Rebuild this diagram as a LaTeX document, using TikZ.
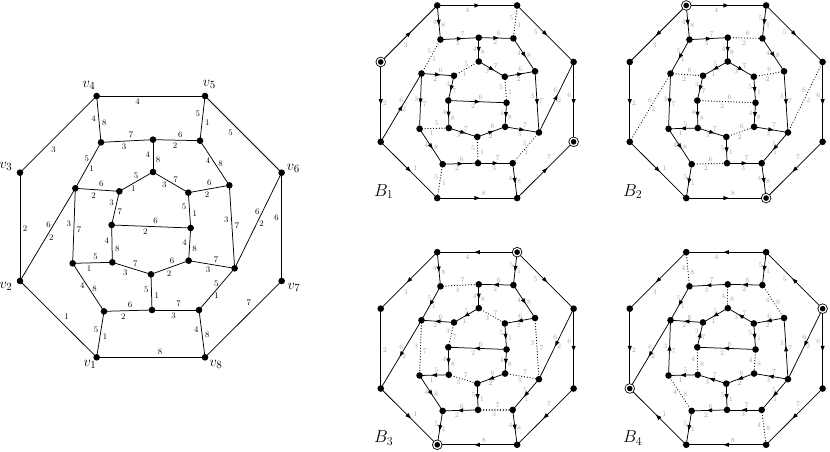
\documentclass[tikz,border=0pt]{standalone}
\usetikzlibrary{decorations.markings,backgrounds}
\tikzset{
  vtx/.style={circle,fill=black,inner sep=0pt,minimum size=6.6pt},
  term/.style={circle,fill=black,draw=black,double=white,double distance=1.3pt,line width=0.8pt,minimum size=7.3pt,inner sep=0pt},
  edgeline/.style={line width=0.75pt,draw=black},
  fwd/.style={postaction={decorate,decoration={markings,mark=at position 0.5 with {\fill[black] (2.7pt,0pt) -- (-2.7pt,2.1pt) -- (-2.7pt,-2.1pt) -- cycle;}}}},
  bwd/.style={postaction={decorate,decoration={markings,mark=at position 0.5 with {\fill[black] (-2.7pt,0pt) -- (2.7pt,2.1pt) -- (2.7pt,-2.1pt) -- cycle;}}}},
  dotE/.style={dash pattern=on 0.01pt off 2.8pt,line cap=round,line width=1.2pt},
  pl/.style={},
  labL/.style={font=\fontsize{8.5}{9}\selectfont,inner sep=2.6pt,text=black},
  labB/.style={font=\fontsize{7}{8}\selectfont,inner sep=1.8pt,text=black!36},
  lab/.style={labL},
  vlab/.style={font=\fontsize{15}{17}\selectfont,inner sep=0pt},
  blab/.style={font=\fontsize{17}{19}\selectfont,inner sep=0pt},
  sv1/.style={},sv2/.style={},sv3/.style={},sv4/.style={},
  sv5/.style={},sv6/.style={},sv7/.style={},sv8/.style={},
  o1/.style={},o2/.style={},o3/.style={},o4/.style={},o5/.style={},o6/.style={},o7/.style={},o8/.style={},
  e1/.style={},e2/.style={},e3/.style={},e4/.style={},e5/.style={},e6/.style={},e7/.style={},e8/.style={},
  e9/.style={},e10/.style={},e11/.style={},e12/.style={},e13/.style={},e14/.style={},e15/.style={},e16/.style={},
  e17/.style={},e18/.style={},e19/.style={},e20/.style={},e21/.style={},e22/.style={},e23/.style={},e24/.style={},
  e25/.style={},e26/.style={},e27/.style={},e28/.style={},e29/.style={},e30/.style={},e31/.style={}
}
\def\pfx{L}
\newcommand\PlaceVerts{%
  \node[vtx,sv1] (\pfx v1) at (290,862) {};
  \node[vtx,sv2] (\pfx v2) at (60,633) {};
  \node[vtx,sv3] (\pfx v3) at (60,308) {};
  \node[vtx,sv4] (\pfx v4) at (290,78) {};
  \node[vtx,sv5] (\pfx v5) at (615,78) {};
  \node[vtx,sv6] (\pfx v6) at (845,308) {};
  \node[vtx,sv7] (\pfx v7) at (845,633) {};
  \node[vtx,sv8] (\pfx v8) at (615,862) {};
  \node[vtx] (\pfx a) at (303,217) {};
  \node[vtx] (\pfx b) at (459,209) {};
  \node[vtx] (\pfx c) at (600,212) {};
  \node[vtx] (\pfx d) at (688,346) {};
  \node[vtx] (\pfx e) at (704,595) {};
  \node[vtx] (\pfx f) at (597,720) {};
  \node[vtx] (\pfx g) at (456,720) {};
  \node[vtx] (\pfx h) at (312,724) {};
  \node[vtx] (\pfx i) at (218,580) {};
  \node[vtx] (\pfx j) at (226,355) {};
  \node[vtx] (\pfx k) at (459,306) {};
  \node[vtx] (\pfx l) at (358,364) {};
  \node[vtx] (\pfx m) at (565,368) {};
  \node[vtx] (\pfx n) at (335,465) {};
  \node[vtx] (\pfx o) at (572,474) {};
  \node[vtx] (\pfx p) at (337,577) {};
  \node[vtx] (\pfx q) at (453,613) {};
  \node[vtx] (\pfx r) at (566,572) {};
}
\newcommand\EdgeOne[6]{\draw[edgeline,#1] (\pfx#2.center) -- node[lab,pos=#4,#5]{#6} (\pfx#3.center);}
\newcommand\EdgeTwo[9]{\draw[edgeline,#1] (\pfx#2.center) -- node[lab,pos=#4,#5]{#6} node[lab,pos=#7,#8]{#9} (\pfx#3.center);}
\newcommand\AllEdges{%
\EdgeOne{o1}{v4}{v5}{.378}{below}{4}%
\EdgeOne{o2}{v5}{v6}{.40}{below left}{5}%
\EdgeOne{o3}{v6}{v7}{.412}{left}{6}%
\EdgeOne{o4}{v7}{v8}{.36}{above left}{7}%
\EdgeOne{o5}{v1}{v8}{.585}{above}{8}%
\EdgeOne{o6}{v2}{v1}{.54}{above right}{1}%
\EdgeOne{o7}{v3}{v2}{.514}{right}{2}%
\EdgeOne{o8}{v3}{v4}{.37}{below right}{3}%
\EdgeTwo{e1}{v4}{a}{.482}{left}{4}{.576}{right}{8}%
\EdgeTwo{e2}{a}{b}{.577}{above}{7}{.442}{below}{3}%
\EdgeTwo{e3}{b}{c}{.582}{above}{6}{.468}{below}{2}%
\EdgeTwo{e4}{v5}{c}{.388}{left}{5}{.59}{right}{1}%
\EdgeTwo{e5}{c}{d}{.448}{left}{4}{.522}{right}{8}%
\EdgeTwo{e6}{b}{k}{.474}{left}{4}{.608}{right}{8}%
\EdgeTwo{e7}{j}{a}{.652}{left}{5}{.428}{right}{1}%
\EdgeTwo{e8}{k}{l}{.505}{above}{5}{.584}{below}{1}%
\EdgeTwo{e9}{k}{m}{.642}{above}{7}{.321}{below}{3}%
\EdgeTwo{e10}{j}{l}{.591}{above}{6}{.417}{below}{2}%
\EdgeTwo{e11}{m}{d}{.512}{above}{6}{.455}{below}{2}%
\EdgeTwo{e12}{l}{n}{.337}{left}{3}{.604}{right}{7}%
\EdgeTwo{e13}{m}{o}{.396}{left}{5}{.585}{right}{1}%
\EdgeTwo{e14}{n}{o}{.557}{above}{6}{.426}{below}{2}%
\EdgeTwo{e15}{v2}{j}{.608}{left}{6}{.471}{right}{2}%
\EdgeTwo{e16}{v6}{e}{.408}{left}{6}{.537}{right}{2}%
\EdgeTwo{e17}{j}{i}{.467}{left}{3}{.556}{right}{7}%
\EdgeTwo{e18}{d}{e}{.41}{left}{3}{.49}{right}{7}%
\EdgeTwo{e19}{n}{p}{.42}{left}{4}{.625}{right}{8}%
\EdgeTwo{e20}{o}{r}{.439}{left}{4}{.622}{right}{8}%
\EdgeTwo{e21}{i}{p}{.58}{above}{5}{.412}{below}{1}%
\EdgeTwo{e22}{p}{q}{.595}{above}{7}{.336}{below}{3}%
\EdgeTwo{e23}{q}{r}{.558}{above}{6}{.478}{below}{2}%
\EdgeTwo{e24}{r}{e}{.594}{above}{7}{.42}{below}{3}%
\EdgeTwo{e25}{i}{h}{.472}{left}{4}{.535}{right}{8}%
\EdgeTwo{e26}{q}{g}{.439}{left}{5}{.589}{right}{1}%
\EdgeTwo{e27}{e}{f}{.37}{left}{5}{.65}{right}{1}%
\EdgeTwo{e28}{h}{g}{.542}{above}{6}{.403}{below}{2}%
\EdgeTwo{e29}{g}{f}{.567}{above}{7}{.461}{below}{3}%
\EdgeTwo{e30}{h}{v1}{.391}{left}{5}{.551}{right}{1}%
\EdgeTwo{e31}{f}{v8}{.423}{left}{4}{.514}{right}{8}%
}
\begin{document}
\begin{tikzpicture}[x=1pt,y=-1pt]
\useasboundingbox (0,0) rectangle (830,452);
\begin{scope}[on background layer]
  \fill[white] (0,0) rectangle (830,452);
\end{scope}
% ---------------- left graph ----------------
\def\pfx{L}
\begin{scope}[shift={(0,70)},scale=0.33333]
  \PlaceVerts
  \node[vlab] (Llv1) at (270,882) {$v_1$};
  \node[vlab] (Llv2) at (18,648) {$v_2$};
  \node[vlab] (Llv3) at (18,290) {$v_3$};
  \node[vlab] (Llv4) at (267,47) {$v_4$};
  \node[vlab] (Llv5) at (628,44) {$v_5$};
  \node[vlab] (Llv6) at (880,296) {$v_6$};
  \node[vlab] (Llv7) at (882,651) {$v_7$};
  \node[vlab] (Llv8) at (648,882) {$v_8$};
\end{scope}
\begin{scope}[on background layer,lab/.style={labL}]
  \AllEdges
\end{scope}
% ---------------- B1 ----------------
\def\pfx{P}
\begin{scope}[shift={(366,-13.7)},scale=0.2457,sv3/.style={term},sv7/.style={term}]
  \PlaceVerts
  \node[blab] (PB) at (72,835) {$B_1$};
\end{scope}
\begin{scope}[on background layer,lab/.style={labB},
  o1/.style=fwd,o2/.style=fwd,o3/.style=fwd,o4/.style=bwd,o5/.style=fwd,o6/.style=fwd,o7/.style=fwd,o8/.style=fwd,
  e1/.style=fwd,e2/.style=fwd,e3/.style=fwd,e4/.style=dotE,e5/.style=fwd,e6/.style=fwd,e7/.style=dotE,e8/.style=dotE,
  e9/.style=fwd,e10/.style=fwd,e11/.style=fwd,e12/.style=fwd,e13/.style=dotE,e14/.style=fwd,e15/.style=fwd,e16/.style=bwd,
  e17/.style=fwd,e18/.style=fwd,e19/.style=fwd,e20/.style=fwd,e21/.style=dotE,e22/.style=fwd,e23/.style=fwd,e24/.style=fwd,
  e25/.style=fwd,e26/.style=dotE,e27/.style=dotE,e28/.style=fwd,e29/.style=fwd,e30/.style=dotE,e31/.style=fwd]
  \AllEdges
\end{scope}
% ---------------- B2 ----------------
\def\pfx{Q}
\begin{scope}[shift={(615,-13.7)},scale=0.2457,sv4/.style={term},sv8/.style={term}]
  \PlaceVerts
  \node[blab] (QB) at (72,835) {$B_2$};
\end{scope}
\begin{scope}[on background layer,lab/.style={labB},
  o1/.style=fwd,o2/.style=fwd,o3/.style=fwd,o4/.style=fwd,o5/.style=fwd,o6/.style=fwd,o7/.style=fwd,o8/.style=bwd,
  e1/.style=fwd,e2/.style=fwd,e3/.style=dotE,e4/.style=fwd,e5/.style=fwd,e6/.style=fwd,e7/.style=bwd,e8/.style=fwd,
  e9/.style=fwd,e10/.style=dotE,e11/.style=dotE,e12/.style=fwd,e13/.style=fwd,e14/.style=dotE,e15/.style=dotE,e16/.style=dotE,
  e17/.style=fwd,e18/.style=fwd,e19/.style=fwd,e20/.style=fwd,e21/.style=bwd,e22/.style=fwd,e23/.style=dotE,e24/.style=fwd,
  e25/.style=fwd,e26/.style=fwd,e27/.style=fwd,e28/.style=dotE,e29/.style=fwd,e30/.style=fwd,e31/.style=fwd]
  \AllEdges
\end{scope}
% ---------------- B3 ----------------
\def\pfx{R}
\begin{scope}[shift={(366,233)},scale=0.2457,sv5/.style={term},sv1/.style={term}]
  \PlaceVerts
  \node[blab] (RB) at (72,835) {$B_3$};
\end{scope}
\begin{scope}[on background layer,lab/.style={labB},
  o1/.style=bwd,o2/.style=fwd,o3/.style=fwd,o4/.style=fwd,o5/.style=bwd,o6/.style=fwd,o7/.style=pl,o8/.style=bwd,
  e1/.style=fwd,e2/.style=dotE,e3/.style=bwd,e4/.style=fwd,e5/.style=fwd,e6/.style=fwd,e7/.style=bwd,e8/.style=fwd,
  e9/.style=dotE,e10/.style=bwd,e11/.style=bwd,e12/.style=dotE,e13/.style=fwd,e14/.style=bwd,e15/.style=bwd,e16/.style=fwd,
  e17/.style=dotE,e18/.style=dotE,e19/.style=fwd,e20/.style=fwd,e21/.style=bwd,e22/.style=dotE,e23/.style=bwd,e24/.style=dotE,
  e25/.style=fwd,e26/.style=fwd,e27/.style=fwd,e28/.style=bwd,e29/.style=dotE,e30/.style=fwd,e31/.style=fwd]
  \AllEdges
\end{scope}
% ---------------- B4 ----------------
\def\pfx{S}
\begin{scope}[shift={(615,233)},scale=0.2457,sv6/.style={term},sv2/.style={term}]
  \PlaceVerts
  \node[blab] (SB) at (72,835) {$B_4$};
\end{scope}
\begin{scope}[on background layer,lab/.style={labB},
  o1/.style=bwd,o2/.style=bwd,o3/.style=fwd,o4/.style=fwd,o5/.style=bwd,o6/.style=bwd,o7/.style=fwd,o8/.style=bwd,
  e1/.style=dotE,e2/.style=bwd,e3/.style=bwd,e4/.style=fwd,e5/.style=dotE,e6/.style=dotE,e7/.style=bwd,e8/.style=fwd,
  e9/.style=bwd,e10/.style=bwd,e11/.style=bwd,e12/.style=bwd,e13/.style=fwd,e14/.style=bwd,e15/.style=bwd,e16/.style=fwd,
  e17/.style=bwd,e18/.style=bwd,e19/.style=dotE,e20/.style=dotE,e21/.style=bwd,e22/.style=bwd,e23/.style=bwd,e24/.style=bwd,
  e25/.style=dotE,e26/.style=fwd,e27/.style=fwd,e28/.style=bwd,e29/.style=bwd,e30/.style=fwd,e31/.style=dotE]
  \AllEdges
\end{scope}
\end{tikzpicture}
\end{document}
